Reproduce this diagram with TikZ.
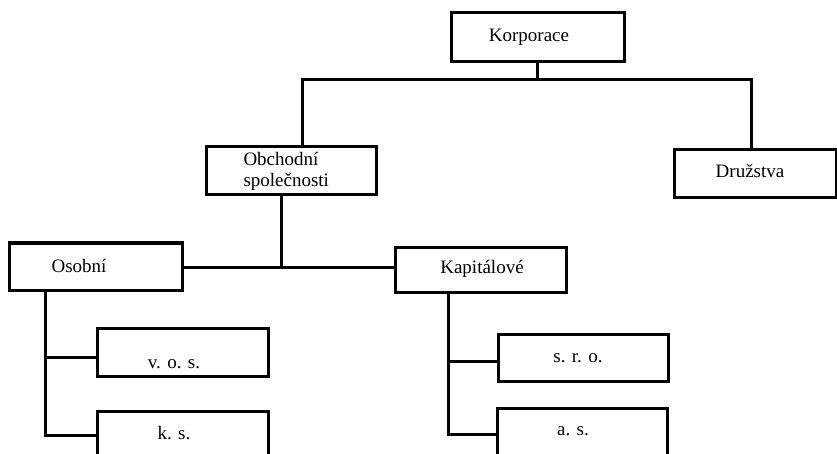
\documentclass[tikz,border=0pt]{standalone}
\usepackage{fontspec}
\setmainfont{Liberation Serif}
\begin{document}
\begin{tikzpicture}[x=1pt,y=-1pt,line width=3pt,
  box/.style={draw,line width=3pt,rectangle,inner sep=0pt,outer sep=0pt},
  lbl/.style={anchor=base,inner sep=0pt,font=\fontsize{19}{21}\selectfont}]
\useasboundingbox (0,0) rectangle (837,454);
\clip (0,0) rectangle (837,454);
% boxes
\node[box,minimum width=173pt,minimum height=49pt] (korp) at (537.5,37.5) {};
\node[box,minimum width=170pt,minimum height=48pt] (obch) at (291,171) {};
\node[box,minimum width=162pt,minimum height=48pt] (druz) at (755,174) {};
\node[box,minimum width=173pt,minimum height=47pt] (osob) at (95.5,266.5) {};
\node[box,minimum width=171pt,minimum height=45pt] (kap) at (480.5,269.5) {};
\node[box,minimum width=171pt,minimum height=48pt] (vos) at (182.5,352) {};
\node[box,minimum width=171pt,minimum height=48pt] (ks) at (182.5,435) {};
\node[box,minimum width=170pt,minimum height=47pt] (sro) at (583,357.5) {};
\node[box,minimum width=170pt,minimum height=48pt] (as) at (582,432) {};
% labels
\node[lbl] (tkorp) at (529,42) {Korporace};
\node[lbl,anchor=base west,align=left] (tobch) at (242,187) {Obchodní\\společnosti};
\node[lbl] (tdruz) at (750,178) {Družstva};
\node[lbl] (tosob) at (79,272) {Osobní};
\node[lbl] (tkap) at (482,273) {Kapitálové};
\node[lbl] (tvos) at (174,368) {v. o. s.};
\node[lbl] (tks) at (174,439) {k. s.};
\node[lbl] (tsro) at (578,362) {s. r. o.};
\node[lbl] (tas) at (573,435) {a. s.};
% connectors
\coordinate (tl) at (302,80);
\coordinate (tr) at (751,80);
\coordinate (tm) at (korp.south |- tl);
\draw (korp.south) -- (tm);
\draw (tl |- obch.north) -- (tl) -- (tr) -- (tr |- druz.north);
\coordinate (mj) at (281,267);
\draw (mj |- obch.south) -- (mj);
\draw (osob.east |- mj) -- (kap.west |- mj);
\coordinate (l1) at (45,357);
\coordinate (l2) at (45,435);
\draw (l1 |- osob.south) -- (l2) -- (ks.west |- l2);
\draw (l1) -- (vos.west |- l1);
\coordinate (r1) at (448,361);
\coordinate (r2) at (448,434);
\draw (r1 |- kap.south) -- (r2) -- (as.west |- r2);
\draw (r1) -- (sro.west |- r1);
\end{tikzpicture}
\end{document}
